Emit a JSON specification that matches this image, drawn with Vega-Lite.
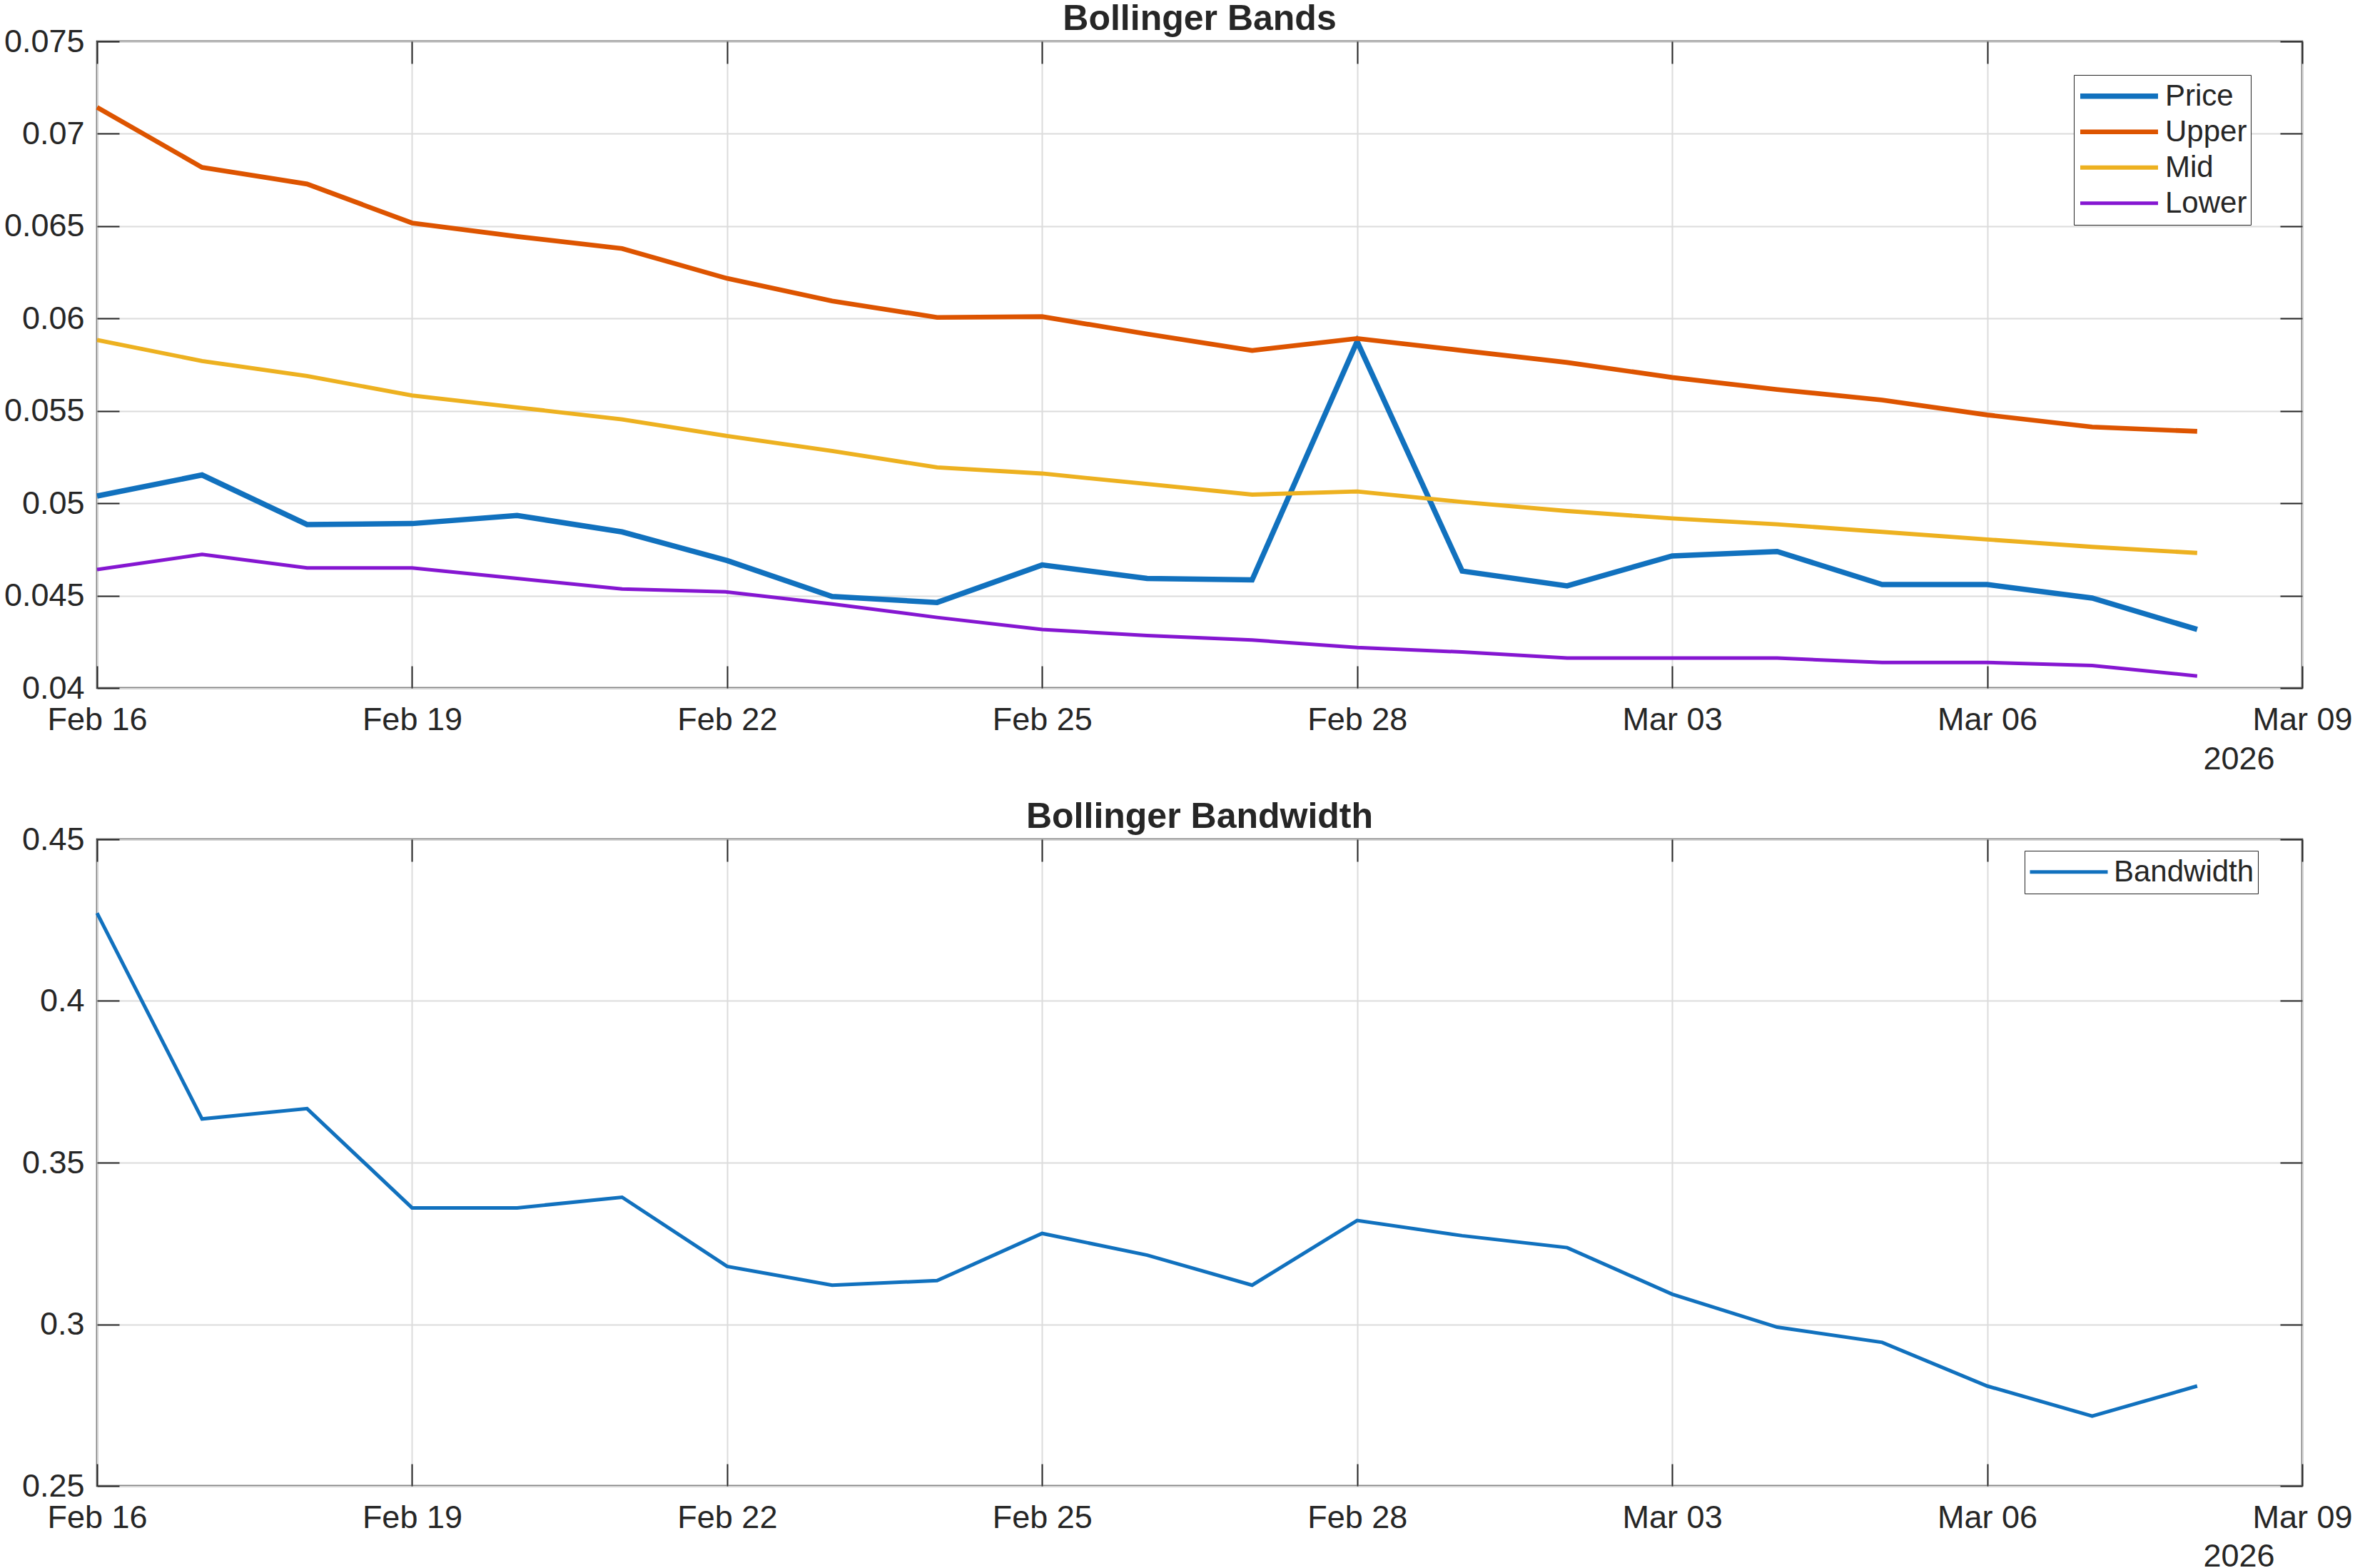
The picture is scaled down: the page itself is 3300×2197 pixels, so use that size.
{
  "$schema": "https://vega.github.io/schema/vega-lite/v6.json",
  "background": "white",
  "padding": {"left": 4, "top": 0, "right": 0, "bottom": 0},
  "spacing": 30,
  "resolve": {"scale": {"color": "independent", "strokeWidth": "independent"}, "legend": {"color": "independent", "strokeWidth": "independent"}},
  "datasets": {
    "bands": [
      {"date": "2026-02-16", "Price": 0.05039, "Upper": 0.07143, "Mid": 0.05884, "Lower": 0.04641, "Bandwidth": 0.4272},
      {"date": "2026-02-17", "Price": 0.05153, "Upper": 0.06818, "Mid": 0.05770, "Lower": 0.04723, "Bandwidth": 0.3635},
      {"date": "2026-02-18", "Price": 0.04885, "Upper": 0.06728, "Mid": 0.05689, "Lower": 0.04650, "Bandwidth": 0.3667},
      {"date": "2026-02-19", "Price": 0.04890, "Upper": 0.06517, "Mid": 0.05583, "Lower": 0.04650, "Bandwidth": 0.3360},
      {"date": "2026-02-20", "Price": 0.04934, "Upper": 0.06444, "Mid": 0.05519, "Lower": 0.04593, "Bandwidth": 0.3360},
      {"date": "2026-02-21", "Price": 0.04845, "Upper": 0.06379, "Mid": 0.05454, "Lower": 0.04536, "Bandwidth": 0.3393},
      {"date": "2026-02-22", "Price": 0.04690, "Upper": 0.06217, "Mid": 0.05364, "Lower": 0.04520, "Bandwidth": 0.3179},
      {"date": "2026-02-23", "Price": 0.04495, "Upper": 0.06095, "Mid": 0.05283, "Lower": 0.04455, "Bandwidth": 0.3121},
      {"date": "2026-02-24", "Price": 0.04463, "Upper": 0.06006, "Mid": 0.05194, "Lower": 0.04382, "Bandwidth": 0.3135},
      {"date": "2026-02-25", "Price": 0.04666, "Upper": 0.06010, "Mid": 0.05161, "Lower": 0.04317, "Bandwidth": 0.3281},
      {"date": "2026-02-26", "Price": 0.04593, "Upper": 0.05916, "Mid": 0.05104, "Lower": 0.04284, "Bandwidth": 0.3214},
      {"date": "2026-02-27", "Price": 0.04585, "Upper": 0.05827, "Mid": 0.05047, "Lower": 0.04260, "Bandwidth": 0.3121},
      {"date": "2026-02-28", "Price": 0.05876, "Upper": 0.05892, "Mid": 0.05064, "Lower": 0.04219, "Bandwidth": 0.3321},
      {"date": "2026-03-01", "Price": 0.04633, "Upper": 0.05827, "Mid": 0.05007, "Lower": 0.04195, "Bandwidth": 0.3274},
      {"date": "2026-03-02", "Price": 0.04553, "Upper": 0.05762, "Mid": 0.04958, "Lower": 0.04162, "Bandwidth": 0.3237},
      {"date": "2026-03-03", "Price": 0.04715, "Upper": 0.05681, "Mid": 0.04918, "Lower": 0.04162, "Bandwidth": 0.3093},
      {"date": "2026-03-04", "Price": 0.04739, "Upper": 0.05616, "Mid": 0.04886, "Lower": 0.04162, "Bandwidth": 0.2991},
      {"date": "2026-03-05", "Price": 0.04560, "Upper": 0.05559, "Mid": 0.04845, "Lower": 0.04138, "Bandwidth": 0.2944},
      {"date": "2026-03-06", "Price": 0.04560, "Upper": 0.05478, "Mid": 0.04804, "Lower": 0.04138, "Bandwidth": 0.2809},
      {"date": "2026-03-07", "Price": 0.04487, "Upper": 0.05413, "Mid": 0.04764, "Lower": 0.04122, "Bandwidth": 0.2716},
      {"date": "2026-03-08", "Price": 0.04317, "Upper": 0.05389, "Mid": 0.04731, "Lower": 0.04065, "Bandwidth": 0.2809}
    ]
  },
  "vconcat": [
    {
      "title": {"text": "Bollinger Bands"},
      "width": 3090,
      "height": 906,
      "data": {"name": "bands"},
      "transform": [{"fold": ["Price", "Upper", "Mid", "Lower"], "as": ["series", "value"]}],
      "resolve": {"axis": {"x": "independent", "y": "independent"}},
      "layer": [
        {
          "mark": {"type": "line"},
          "encoding": {
            "x": {
              "field": "date", "type": "temporal",
              "scale": {"type": "utc", "domain": [{"year": 2026, "month": 2, "date": 16, "utc": true}, {"year": 2026, "month": 3, "date": 9, "utc": true}]},
              "axis": {
                "orient": "bottom", "format": "%b %d", "grid": true, "labelPadding": 53,
                "values": [
                  {"year": 2026, "month": 2, "date": 16, "utc": true},
                  {"year": 2026, "month": 2, "date": 19, "utc": true},
                  {"year": 2026, "month": 2, "date": 22, "utc": true},
                  {"year": 2026, "month": 2, "date": 25, "utc": true},
                  {"year": 2026, "month": 2, "date": 28, "utc": true},
                  {"year": 2026, "month": 3, "date": 3, "utc": true},
                  {"year": 2026, "month": 3, "date": 6, "utc": true},
                  {"year": 2026, "month": 3, "date": 9, "utc": true}
                ],
                "title": "2026", "titleX": 3051, "titleY": 113, "titleAlign": "right", "titleBaseline": "alphabetic"
              }
            },
            "y": {
              "field": "value", "type": "quantitative",
              "scale": {"domain": [0.04, 0.075], "nice": false, "zero": false},
              "axis": {"orient": "left", "grid": true, "title": null, "format": ".3~f", "labelPadding": 49,
                "values": [0.04, 0.045, 0.05, 0.055, 0.06, 0.065, 0.07, 0.075]}
            },
            "color": {
              "field": "series", "type": "nominal",
              "scale": {"domain": ["Price", "Upper", "Mid", "Lower"], "range": ["#1171BE", "#DD5400", "#EDB120", "#8516D1"]},
              "legend": {"orient": "none", "legendX": 2770, "legendY": 47}
            },
            "strokeWidth": {
              "field": "series", "type": "nominal",
              "scale": {"domain": ["Price", "Upper", "Mid", "Lower"], "range": [7.5, 5, 5, 5]},
              "legend": {"orient": "none", "legendX": 2770, "legendY": 47}
            }
          }
        },
        {
          "mark": {"type": "line", "opacity": 0},
          "encoding": {
            "x": {
              "field": "date", "type": "temporal",
              "scale": {"type": "utc", "domain": [{"year": 2026, "month": 2, "date": 16, "utc": true}, {"year": 2026, "month": 3, "date": 9, "utc": true}]},
              "axis": {
                "orient": "top", "labels": false, "grid": false, "title": null,
                "values": [
                  {"year": 2026, "month": 2, "date": 16, "utc": true},
                  {"year": 2026, "month": 2, "date": 19, "utc": true},
                  {"year": 2026, "month": 2, "date": 22, "utc": true},
                  {"year": 2026, "month": 2, "date": 25, "utc": true},
                  {"year": 2026, "month": 2, "date": 28, "utc": true},
                  {"year": 2026, "month": 3, "date": 3, "utc": true},
                  {"year": 2026, "month": 3, "date": 6, "utc": true},
                  {"year": 2026, "month": 3, "date": 9, "utc": true}
                ]
              }
            },
            "y": {
              "field": "value", "type": "quantitative",
              "scale": {"domain": [0.04, 0.075], "nice": false, "zero": false},
              "axis": {"orient": "right", "labels": false, "grid": false, "title": null,
                "values": [0.04, 0.045, 0.05, 0.055, 0.06, 0.065, 0.07, 0.075]}
            }
          }
        }
      ]
    },
    {
      "title": {"text": "Bollinger Bandwidth"},
      "width": 3090,
      "height": 906,
      "data": {"name": "bands"},
      "transform": [{"fold": ["Bandwidth"], "as": ["series", "value"]}],
      "resolve": {"axis": {"x": "independent", "y": "independent"}},
      "layer": [
        {
          "mark": {"type": "line", "strokeWidth": 5},
          "encoding": {
            "x": {
              "field": "date", "type": "temporal",
              "scale": {"type": "utc", "domain": [{"year": 2026, "month": 2, "date": 16, "utc": true}, {"year": 2026, "month": 3, "date": 9, "utc": true}]},
              "axis": {
                "orient": "bottom", "format": "%b %d", "grid": true, "labelPadding": 53,
                "values": [
                  {"year": 2026, "month": 2, "date": 16, "utc": true},
                  {"year": 2026, "month": 2, "date": 19, "utc": true},
                  {"year": 2026, "month": 2, "date": 22, "utc": true},
                  {"year": 2026, "month": 2, "date": 25, "utc": true},
                  {"year": 2026, "month": 2, "date": 28, "utc": true},
                  {"year": 2026, "month": 3, "date": 3, "utc": true},
                  {"year": 2026, "month": 3, "date": 6, "utc": true},
                  {"year": 2026, "month": 3, "date": 9, "utc": true}
                ],
                "title": "2026", "titleX": 3051, "titleY": 112, "titleAlign": "right", "titleBaseline": "alphabetic"
              }
            },
            "y": {
              "field": "value", "type": "quantitative",
              "scale": {"domain": [0.25, 0.45], "nice": false, "zero": false},
              "axis": {"orient": "left", "grid": true, "title": null, "format": ".2~f", "labelPadding": 49,
                "values": [0.25, 0.3, 0.35, 0.4, 0.45]}
            },
            "color": {
              "field": "series", "type": "nominal",
              "scale": {"domain": ["Bandwidth"], "range": ["#1171BE"]},
              "legend": {"orient": "none", "legendX": 2701, "legendY": 16, "symbolStrokeWidth": 5}
            }
          }
        },
        {
          "mark": {"type": "line", "opacity": 0},
          "encoding": {
            "x": {
              "field": "date", "type": "temporal",
              "scale": {"type": "utc", "domain": [{"year": 2026, "month": 2, "date": 16, "utc": true}, {"year": 2026, "month": 3, "date": 9, "utc": true}]},
              "axis": {
                "orient": "top", "labels": false, "grid": false, "title": null,
                "values": [
                  {"year": 2026, "month": 2, "date": 16, "utc": true},
                  {"year": 2026, "month": 2, "date": 19, "utc": true},
                  {"year": 2026, "month": 2, "date": 22, "utc": true},
                  {"year": 2026, "month": 2, "date": 25, "utc": true},
                  {"year": 2026, "month": 2, "date": 28, "utc": true},
                  {"year": 2026, "month": 3, "date": 3, "utc": true},
                  {"year": 2026, "month": 3, "date": 6, "utc": true},
                  {"year": 2026, "month": 3, "date": 9, "utc": true}
                ]
              }
            },
            "y": {
              "field": "value", "type": "quantitative",
              "scale": {"domain": [0.25, 0.45], "nice": false, "zero": false},
              "axis": {"orient": "right", "labels": false, "grid": false, "title": null,
                "values": [0.25, 0.3, 0.35, 0.4, 0.45]}
            }
          }
        }
      ]
    }
  ],
  "config": {
    "font": "Liberation Sans",
    "view": {"stroke": "#262626", "strokeWidth": 2.5},
    "axis": {
      "labelFont": "Liberation Sans", "labelFontSize": 45, "labelColor": "#262626",
      "tickColor": "#262626", "tickWidth": 2, "tickSize": -31,
      "domain": false, "gridColor": "#dcdcdc", "gridWidth": 2,
      "labelOverlap": false, "labelFlush": false, "labelBound": false,
      "titleFont": "Liberation Sans", "titleFontSize": 45, "titleColor": "#262626", "titleFontWeight": "normal"
    },
    "title": {
      "font": "Liberation Sans", "fontSize": 50, "fontWeight": "bold", "color": "#262626",
      "baseline": "alphabetic", "offset": -16, "frame": "group", "anchor": "middle"
    },
    "legend": {
      "title": null, "direction": "vertical", "padding": 5, "symbolOffset": 0,
      "clipHeight": 49.5, "rowPadding": 0, "symbolType": "stroke", "symbolSize": 11881,
      "labelFont": "Liberation Sans", "labelFontSize": 42, "labelColor": "#262626", "labelOffset": 6,
      "labelLimit": 500, "strokeColor": "#262626", "fillColor": "white"
    }
  }
}
